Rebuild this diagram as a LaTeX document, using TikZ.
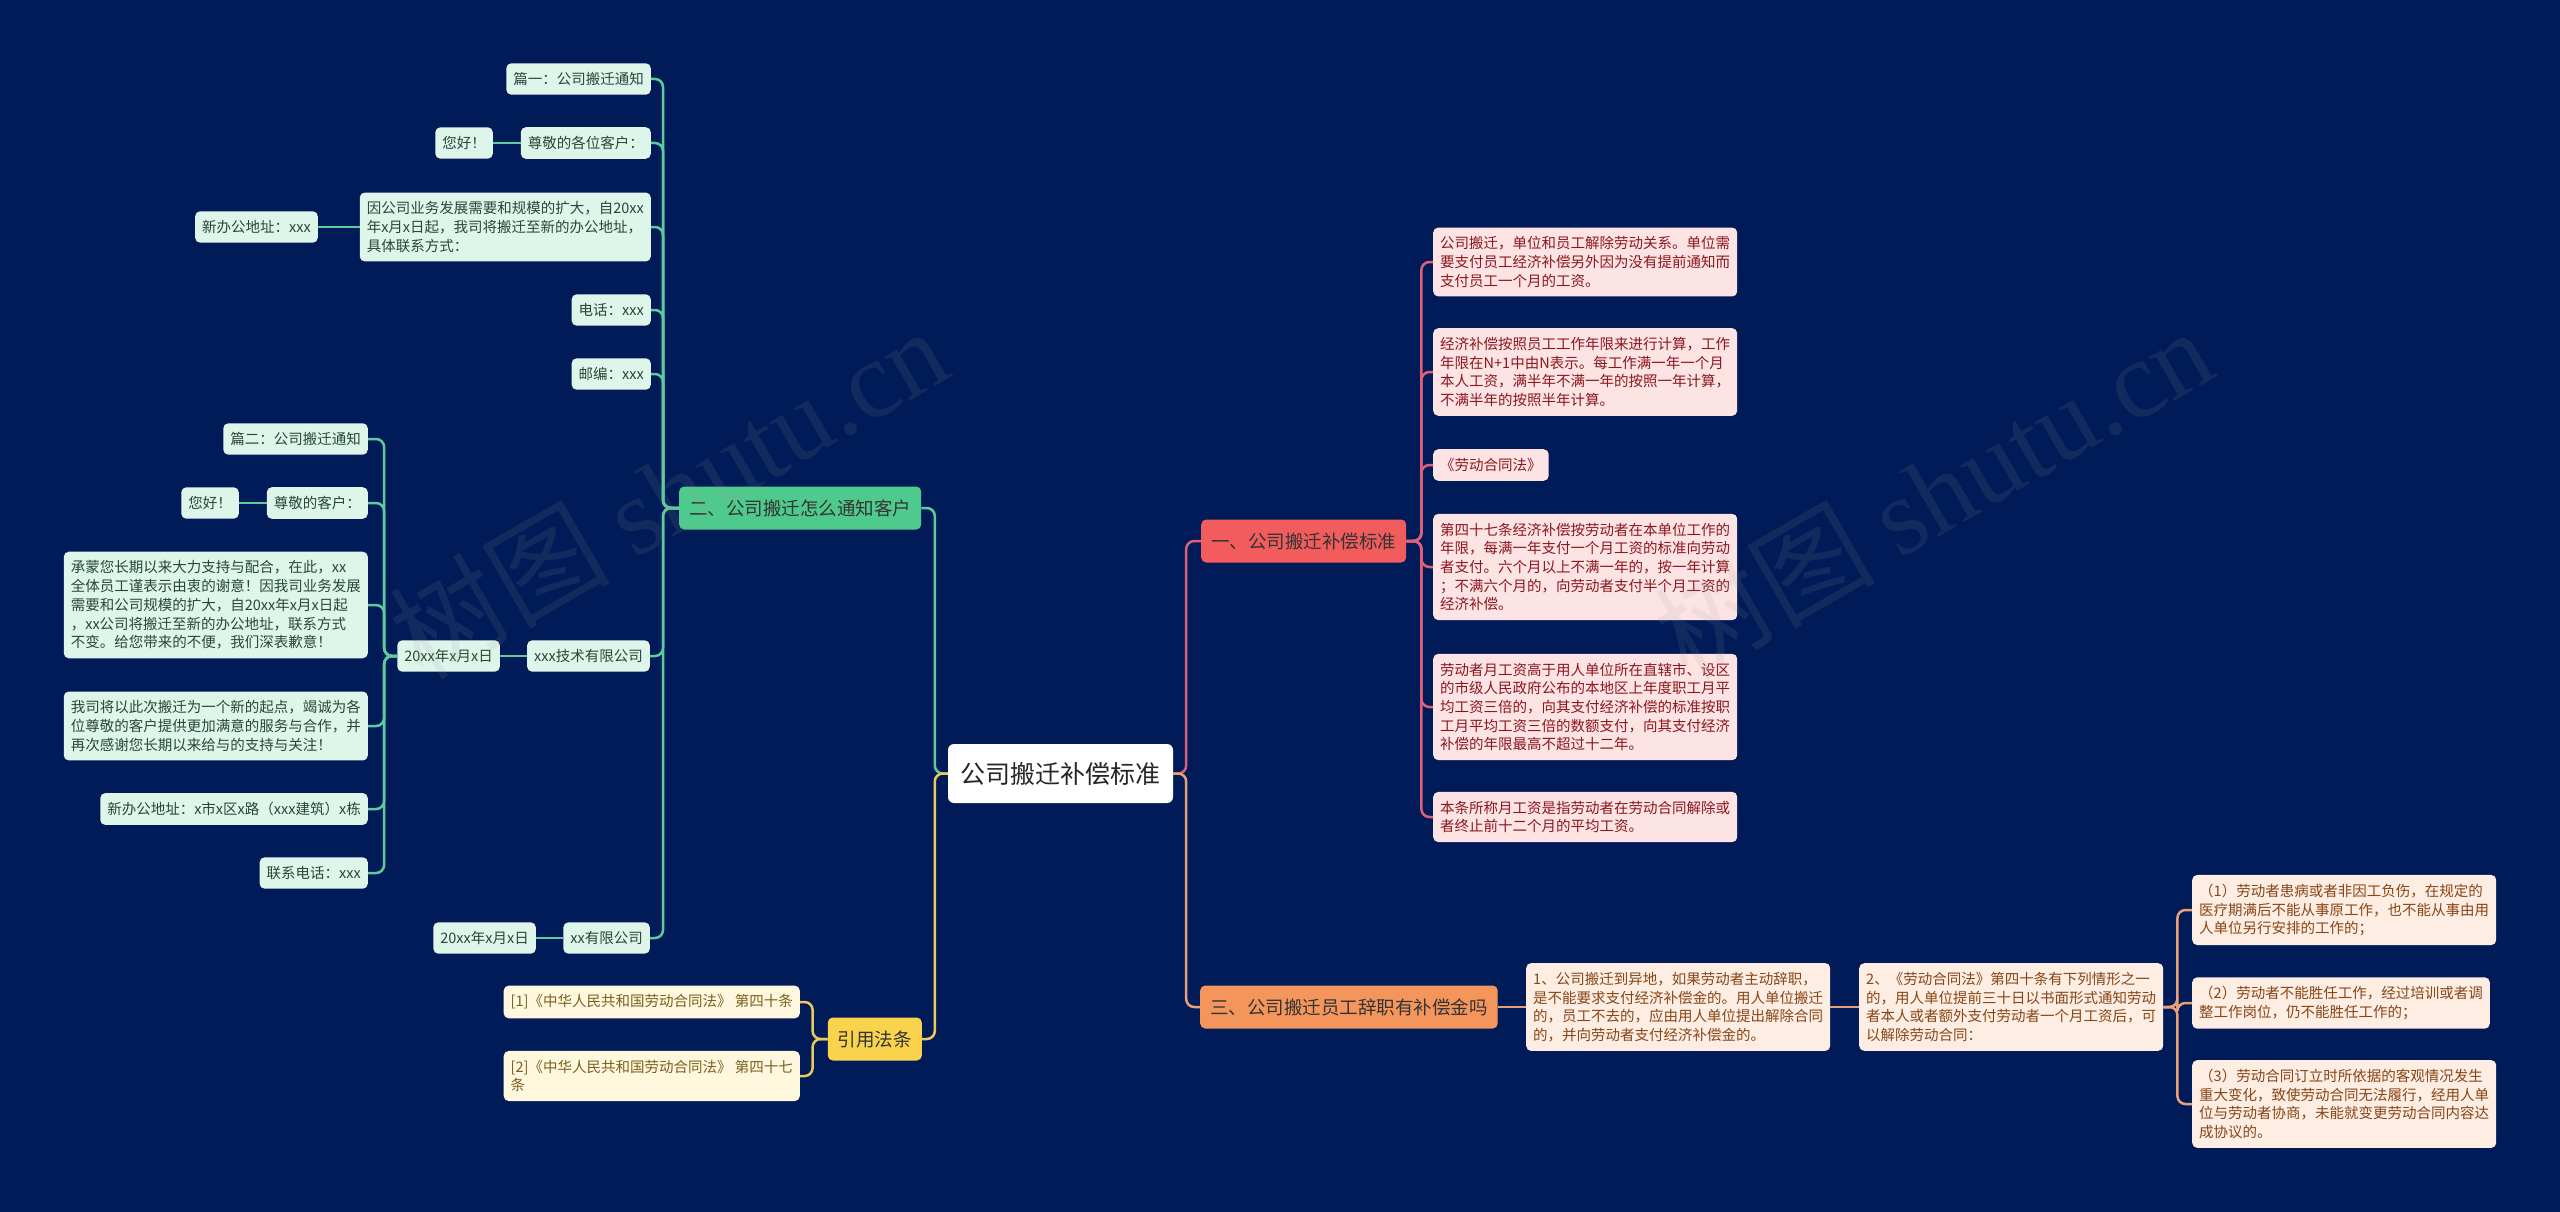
\documentclass[tikz,border=0pt]{standalone}
\usepackage{fontspec}
\setmainfont{Noto Sans CJK SC}
\newfontfamily\wmfont{Liberation Serif}
\definecolor{bg}{RGB}{1,27,88}
\definecolor{gfill}{RGB}{222,245,234}
\definecolor{gtext}{RGB}{38,72,55}
\definecolor{gmain}{RGB}{78,203,140}
\definecolor{gline}{RGB}{92,203,158}
\definecolor{rfill}{RGB}{253,228,228}
\definecolor{rtext}{RGB}{140,22,30}
\definecolor{rmain}{RGB}{242,92,92}
\definecolor{rline}{RGB}{222,96,122}
\definecolor{ofill}{RGB}{253,237,227}
\definecolor{otext}{RGB}{135,70,22}
\definecolor{omain}{RGB}{244,150,92}
\definecolor{oline}{RGB}{232,160,120}
\definecolor{yfill}{RGB}{255,248,222}
\definecolor{ytext}{RGB}{122,96,28}
\definecolor{ymain}{RGB}{249,211,76}
\definecolor{yline}{RGB}{232,203,92}
\newcommand\fsleaf{\fontsize{14.5}{18.7}\selectfont}
\newcommand\fsmid{\fontsize{18.5}{22}\selectfont}
\newcommand\fsroot{\fontsize{25}{30}\selectfont}
\tikzset{
  leafbase/.style={rounded corners=5pt, inner xsep=7pt, inner ysep=9pt, align=left, font=\fsleaf},
  gleaf/.style={leafbase, fill=gfill, text=gtext},
  rleaf/.style={leafbase, fill=rfill, text=rtext},
  oleaf/.style={leafbase, fill=ofill, text=otext},
  yleaf/.style={leafbase, fill=yfill, text=ytext},
  mainbase/.style={rounded corners=5pt, inner xsep=10pt, inner ysep=4pt, minimum height=43pt, font=\fsmid},
  gmainbox/.style={mainbase, fill=gmain, text=black!80},
  rmainbox/.style={mainbase, fill=rmain, text=black!80},
  omainbox/.style={mainbase, fill=omain, text=black!80},
  ymainbox/.style={mainbase, fill=ymain, text=black!80},
  rootbox/.style={rounded corners=6pt, fill=white, text=black!85, minimum width=225pt, minimum height=59pt, font=\fsroot},
  conn/.style={line width=2.5pt, rounded corners=8pt},
  gconn/.style={conn, draw=gline},
  rconn/.style={conn, draw=rline},
  oconn/.style={conn, draw=oline},
  yconn/.style={conn, draw=yline},
  wmark/.style={text=gray!80, opacity=0.12, rotate=30, font=\fontsize{110}{120}\selectfont}
}
\begin{document}
\begin{tikzpicture}[x=1pt,y=-1pt]
\useasboundingbox (0,0) rectangle (2560,1212);
\fill[bg] (0,0) rectangle (2560,1212);

% root
\node[rootbox] (root) at (1060.5,773.5) {公司搬迁补偿标准};

% main branches
\node[gmainbox, anchor=west] (n2) at (679,508) {二、公司搬迁怎么通知客户};
\node[rmainbox, anchor=west] (n1) at (1201,541) {一、公司搬迁补偿标准};
\node[omainbox, anchor=west] (n3) at (1200,1007) {三、公司搬迁员工辞职有补偿金吗};
\node[ymainbox, anchor=east] (ny) at (922,1039) {引用法条};

% green group 1
\node[gleaf, anchor=east] (a1) at (651,79) {篇一：公司搬迁通知};
\node[gleaf, anchor=east] (a2) at (651,143) {尊敬的各位客户：};
\node[gleaf, anchor=east] (a2b) at (493,143) {您好！};
\node[gleaf, anchor=east] (a3) at (651,227) {因公司业务发展需要和规模的扩大，自20xx\\年x月x日起，我司将搬迁至新的办公地址，\\具体联系方式：};
\node[gleaf, anchor=east] (a3b) at (318,227) {新办公地址：xxx};
\node[gleaf, anchor=east] (a4) at (651,310) {电话：xxx};
\node[gleaf, anchor=east] (a5) at (651,374) {邮编：xxx};
\node[gleaf, anchor=east] (a6) at (650,656) {xxx技术有限公司};
\node[gleaf, anchor=east] (a6b) at (500,656) {20xx年x月x日};
\node[gleaf, anchor=east] (a7) at (650,938) {xx有限公司};
\node[gleaf, anchor=east] (a7b) at (536,938) {20xx年x月x日};

% green group 2
\node[gleaf, anchor=east] (b1) at (368,439) {篇二：公司搬迁通知};
\node[gleaf, anchor=east] (b2) at (368,503) {尊敬的客户：};
\node[gleaf, anchor=east] (b2b) at (239,503) {您好！};
\node[gleaf, anchor=east] (b3) at (368,605) {承蒙您长期以来大力支持与配合，在此，xx\\全体员工谨表示由衷的谢意！因我司业务发展\\需要和公司规模的扩大，自20xx年x月x日起\\，xx公司将搬迁至新的办公地址，联系方式\\不变。给您带来的不便，我们深表歉意！};
\node[gleaf, anchor=east] (b4) at (368,726) {我司将以此次搬迁为一个新的起点，竭诚为各\\位尊敬的客户提供更加满意的服务与合作，并\\再次感谢您长期以来给与的支持与关注！};
\node[gleaf, anchor=east] (b5) at (368,809) {新办公地址：x市x区x路（xxx建筑）x栋};
\node[gleaf, anchor=east] (b6) at (368,873) {联系电话：xxx};

% red leaves
\node[rleaf, anchor=west] (r1) at (1433,262) {公司搬迁，单位和员工解除劳动关系。单位需\\要支付员工经济补偿另外因为没有提前通知而\\支付员工一个月的工资。};
\node[rleaf, anchor=west] (r2) at (1433,372) {经济补偿按照员工工作年限来进行计算，工作\\年限在N+1中由N表示。每工作满一年一个月\\本人工资，满半年不满一年的按照一年计算，\\不满半年的按照半年计算。};
\node[rleaf, anchor=west] (r3) at (1433,465) {《劳动合同法》};
\node[rleaf, anchor=west] (r4) at (1433,567) {第四十七条经济补偿按劳动者在本单位工作的\\年限，每满一年支付一个月工资的标准向劳动\\者支付。六个月以上不满一年的，按一年计算\\；不满六个月的，向劳动者支付半个月工资的\\经济补偿。};
\node[rleaf, anchor=west] (r5) at (1433,707) {劳动者月工资高于用人单位所在直辖市、设区\\的市级人民政府公布的本地区上年度职工月平\\均工资三倍的，向其支付经济补偿的标准按职\\工月平均工资三倍的数额支付，向其支付经济\\补偿的年限最高不超过十二年。};
\node[rleaf, anchor=west] (r6) at (1433,817) {本条所称月工资是指劳动者在劳动合同解除或\\者终止前十二个月的平均工资。};

% orange leaves
\node[oleaf, anchor=west] (o1) at (1526,1007) {1、公司搬迁到异地，如果劳动者主动辞职，\\是不能要求支付经济补偿金的。用人单位搬迁\\的，员工不去的，应由用人单位提出解除合同\\的，并向劳动者支付经济补偿金的。};
\node[oleaf, anchor=west] (o2) at (1859,1007) {2、《劳动合同法》第四十条有下列情形之一\\的，用人单位提前三十日以书面形式通知劳动\\者本人或者额外支付劳动者一个月工资后，可\\以解除劳动合同：};
\node[oleaf, anchor=west] (o3) at (2192,910) {（1）劳动者患病或者非因工负伤，在规定的\\医疗期满后不能从事原工作，也不能从事由用\\人单位另行安排的工作的；};
\node[oleaf, anchor=west] (o4) at (2192,1003) {（2）劳动者不能胜任工作，经过培训或者调\\整工作岗位，仍不能胜任工作的；};
\node[oleaf, anchor=west] (o5) at (2192,1104) {（3）劳动合同订立时所依据的客观情况发生\\重大变化，致使劳动合同无法履行，经用人单\\位与劳动者协商，未能就变更劳动合同内容达\\成协议的。};

% yellow leaves
\node[yleaf, anchor=east] (y1) at (800,1002) {[1]《中华人民共和国劳动合同法》 第四十条};
\node[yleaf, anchor=east] (y2) at (800,1076) {[2]《中华人民共和国劳动合同法》 第四十七\\条};

% connectors: root
\draw[gconn] (root.west) -- ++(-13,0) |- (n2.east);
\draw[yconn] (root.west) -- ++(-13,0) |- (ny.east);
\draw[rconn] (root.east) -- ++(13,0) |- (n1.west);
\draw[oconn] (root.east) -- ++(13,0) |- (n3.west);

% green branch
\foreach \c in {a1,a2,a3,a4,a5,a6,a7}
  \draw[gconn] (n2.west) -- ++(-16,0) |- (\c.east);
\draw[gconn] (a2.west) -- (a2b.east);
\draw[gconn] (a3.west) -- (a3b.east);
\draw[gconn] (a6.west) -- (a6b.east);
\draw[gconn] (a7.west) -- (a7b.east);
\foreach \c in {b1,b2,b3,b4,b5,b6}
  \draw[gconn] (a6b.west) -- ++(-13,0) |- (\c.east);
\draw[gconn] (b2.west) -- (b2b.east);

% red branch
\foreach \c in {r1,r2,r3,r4,r5,r6}
  \draw[rconn] (n1.east) -- ++(15,0) |- (\c.west);

% orange branch
\draw[oconn] (n3.east) -- (o1.west);
\draw[oconn] (o1.east) -- (o2.west);
\foreach \c in {o3,o4,o5}
  \draw[oconn] (o2.east) -- ++(14,0) |- (\c.west);

% yellow branch
\foreach \c in {y1,y2}
  \draw[yconn] (ny.west) -- ++(-15,0) |- (\c.east);

% watermarks (faint, on top as in the reference)
\node[wmark] (wm1) at (668,492) {树图 {\wmfont shutu.cn}};
\node[wmark] (wm2) at (1933,492) {树图 {\wmfont shutu.cn}};
\end{tikzpicture}
\end{document}
